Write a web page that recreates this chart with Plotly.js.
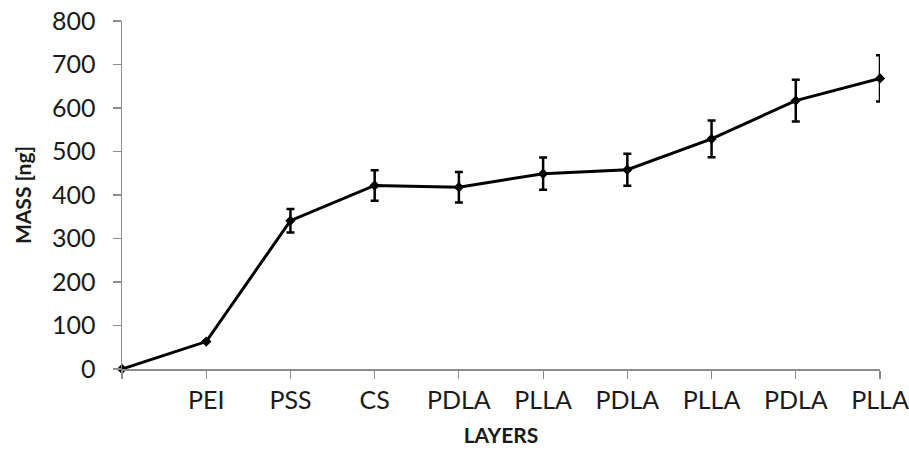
<!DOCTYPE html>
<html>
<head>
<meta charset="utf-8">
<script src="https://cdn.plot.ly/plotly-3.0.1.min.js"></script>
<style>html,body{margin:0;padding:0;background:#fff;}#chart{width:909px;height:457px;}</style>
</head>
<body>
<div id="chart"></div>
<script>
const layers = ["", "PEI", "PSS", "CS", "PDLA", "PLLA", "PDLA", "PLLA", "PDLA", "PLLA"];
const layerIndex = [0, 1, 2, 3, 4, 5, 6, 7, 8, 9];
const massNg = [0, 63, 341, 422, 418, 449, 458, 529, 617, 668];
const massErr = [0, 0, 27, 35, 35, 37, 37, 42, 48, 53];
const yTicks = [0, 100, 200, 300, 400, 500, 600, 700, 800];

const trace = {
  x: layerIndex,
  y: massNg,
  type: 'scatter',
  mode: 'lines+markers',
  line: {color: '#000', width: 3},
  marker: {symbol: 'diamond', size: 8, color: '#000'},
  error_y: {type: 'data', array: massErr, visible: true, color: '#000', thickness: 2.5, width: 4},
  cliponaxis: false,
  showlegend: false
};

const layout = {
  width: 909, height: 457,
  margin: {l: 122, r: 29, t: 21, b: 88},
  paper_bgcolor: '#fff', plot_bgcolor: '#fff',
  font: {family: 'Lato, sans-serif', color: '#1a1a1a'},
  xaxis: {
    range: [0, 9],
    tickmode: 'array', tickvals: layerIndex, ticktext: layers,
    showgrid: false, zeroline: false,
    showline: true, linecolor: '#8c8c8c', linewidth: 1.5,
    ticks: 'outside', ticklen: 8, tickcolor: '#8c8c8c', tickwidth: 1.2,
    ticklabelstandoff: 0,
    tickfont: {size: 25, family: 'Lato, sans-serif', color: '#1a1a1a'},
    title: {text: '<b>LAYERS</b>', font: {size: 21, family: 'Lato, sans-serif', color: '#1a1a1a'}, standoff: 16}
  },
  yaxis: {
    range: [0, 800],
    tickmode: 'array', tickvals: yTicks,
    showgrid: false, zeroline: false,
    showline: true, linecolor: '#8c8c8c', linewidth: 1.5,
    ticks: 'outside', ticklen: 8, tickcolor: '#8c8c8c', tickwidth: 1.2,
    ticklabelstandoff: 12,
    tickfont: {size: 25, family: 'Lato, sans-serif', color: '#1a1a1a'},
    title: {text: '<b>MASS [ng]</b>', font: {size: 21, family: 'Lato, sans-serif', color: '#1a1a1a'}, standoff: 14}
  }
};

Plotly.newPlot('chart', [trace], layout, {displayModeBar: false, staticPlot: true});
</script>
</body>
</html>
